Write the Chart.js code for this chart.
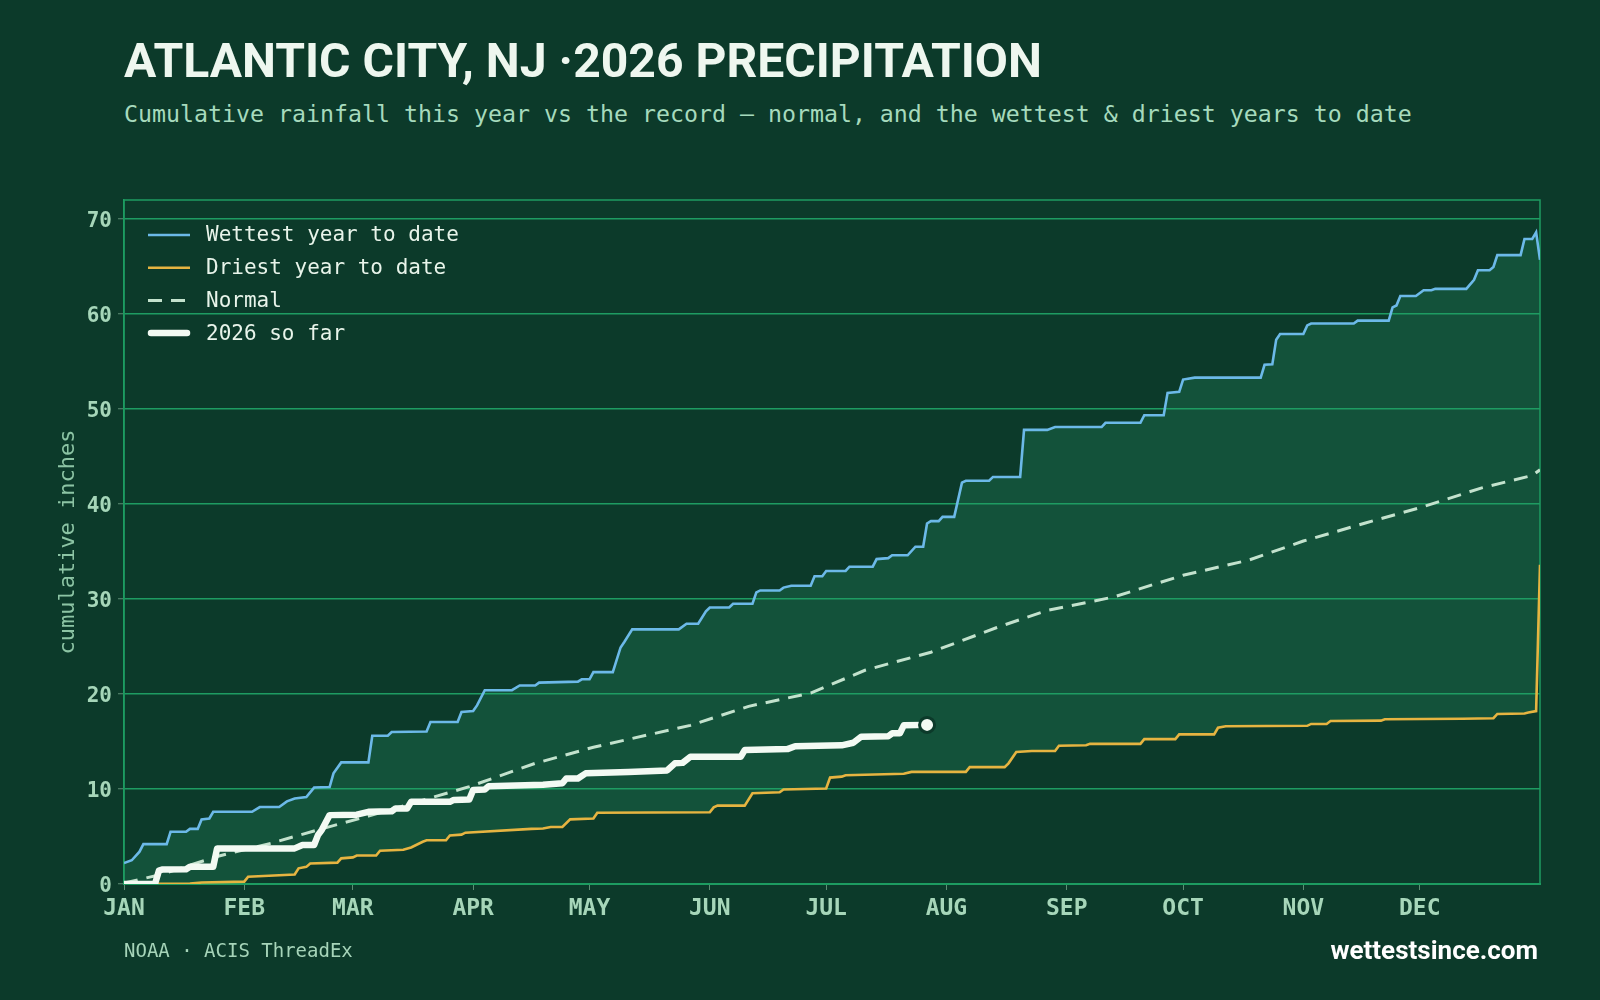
<!DOCTYPE html>
<html>
<head>
<meta charset="utf-8">
<script src="https://cdn.jsdelivr.net/npm/chart.js@4.4.1/dist/chart.umd.min.js"></script>
<style>
  html, body { margin: 0; padding: 0; background: #0c3a2a; }
  body { width: 1600px; height: 1000px; position: relative; overflow: hidden; }
  #chart { position: absolute; left: 0; top: 0; }
  .txt { position: absolute; white-space: nowrap; line-height: 1; }
  #title { left: 124px; top: 32px; font: 700 48.1px Roboto, sans-serif; color: #eef7ef; }
  #subtitle { left: 124px; top: 100px; font: 400 23.25px "DejaVu Sans Mono", monospace; color: #a6dabd; }
  #source { left: 124px; top: 939px; font: 400 19px "DejaVu Sans Mono", monospace; color: #a6d4b9; }
  #site { right: 62px; top: 935px; font: 700 26px Roboto, sans-serif; color: #ffffff; }
</style>
</head>
<body>
<div class="txt" id="title">ATLANTIC CITY, NJ ·2026 PRECIPITATION</div>
<div class="txt" id="subtitle">Cumulative rainfall this year vs the record — normal, and the wettest &amp; driest years to date</div>
<canvas id="chart" width="1600" height="1000"></canvas>
<div class="txt" id="source">NOAA · ACIS ThreadEx</div>
<div class="txt" id="site">wettestsince.com</div>

<script>
// x is day of year (0 = Jan 1), y is cumulative inches
const monthStarts = [0, 31, 59, 90, 120, 151, 181, 212, 243, 273, 304, 334];
const monthLabels = ['JAN', 'FEB', 'MAR', 'APR', 'MAY', 'JUN', 'JUL', 'AUG', 'SEP', 'OCT', 'NOV', 'DEC'];
const yTicks = [0, 10, 20, 30, 40, 50, 60, 70];

const wetDays = [0, 2, 4, 5, 11, 12, 16, 17, 19, 20, 22, 23, 33, 35, 40, 42, 44, 47, 49, 53, 54, 56, 63, 64, 68, 69, 78, 79, 86, 87, 90, 91, 93, 100, 102, 106, 107, 117, 118, 120, 121, 126, 128, 129, 131, 143, 145, 148, 150, 151, 156, 157, 162, 163, 164, 169, 170, 172, 177, 178, 180, 181, 186, 187, 193, 194, 197, 198, 202, 204, 206, 207, 208, 210, 211, 214, 216, 217, 223, 224, 231, 232, 238, 240, 252, 253, 262, 263, 268, 269, 272, 273, 276, 293, 294, 296, 297, 298, 304, 305, 306, 317, 318, 326, 327, 328, 329, 333, 335, 337, 338, 346, 348, 349, 352, 353, 354, 360, 361, 363, 364, 365];
const wetInches = [2.2, 2.5, 3.4, 4.2, 4.2, 5.5, 5.5, 5.8, 5.8, 6.8, 6.9, 7.6, 7.6, 8.1, 8.1, 8.7, 9.0, 9.15, 10.15, 10.2, 11.65, 12.8, 12.8, 15.6, 15.6, 16.0, 16.05, 17.05, 17.05, 18.1, 18.2, 18.8, 20.4, 20.4, 20.9, 20.9, 21.2, 21.3, 21.55, 21.55, 22.3, 22.3, 24.9, 25.5, 26.8, 26.8, 27.4, 27.4, 28.7, 29.1, 29.1, 29.5, 29.5, 30.7, 30.9, 30.9, 31.2, 31.4, 31.4, 32.4, 32.4, 32.95, 32.95, 33.4, 33.4, 34.2, 34.3, 34.6, 34.6, 35.5, 35.5, 37.95, 38.2, 38.2, 38.65, 38.65, 42.25, 42.45, 42.45, 42.85, 42.85, 47.8, 47.8, 48.1, 48.1, 48.55, 48.55, 49.35, 49.35, 51.7, 51.8, 53.1, 53.3, 53.3, 54.65, 54.7, 57.3, 57.9, 57.9, 58.8, 59.0, 59.0, 59.3, 59.3, 60.7, 60.9, 61.9, 61.9, 62.5, 62.5, 62.65, 62.65, 63.6, 64.6, 64.6, 64.95, 66.2, 66.2, 67.9, 67.9, 68.6, 65.7];

const dryDays = [0, 17, 20, 31, 32, 36, 44, 45, 47, 48, 55, 56, 59, 60, 65, 66, 72, 74, 77, 78, 83, 84, 87, 88, 105, 108, 110, 113, 115, 121, 122, 151, 152, 153, 160, 162, 169, 170, 181, 182, 185, 186, 201, 203, 217, 218, 227, 228, 230, 234, 240, 241, 248, 249, 262, 263, 271, 272, 281, 282, 284, 305, 306, 310, 311, 324, 325, 345, 353, 354, 361, 362, 364, 365];
const dryInches = [0, 0.05, 0.15, 0.25, 0.77, 0.85, 1.0, 1.65, 1.8, 2.15, 2.25, 2.7, 2.8, 3.0, 3.0, 3.5, 3.6, 3.85, 4.45, 4.6, 4.6, 5.1, 5.2, 5.4, 5.8, 5.85, 6.0, 6.0, 6.8, 6.9, 7.5, 7.55, 8.07, 8.25, 8.25, 9.55, 9.65, 9.95, 10.05, 11.2, 11.3, 11.45, 11.6, 11.8, 11.8, 12.3, 12.3, 12.7, 13.9, 14.0, 14.0, 14.55, 14.6, 14.75, 14.75, 15.25, 15.25, 15.75, 15.75, 16.45, 16.6, 16.65, 16.85, 16.85, 17.15, 17.2, 17.35, 17.4, 17.45, 17.9, 17.95, 18.05, 18.2, 33.6];

const normalDays = [0, 10, 24, 38, 50, 63, 76, 89, 106, 121, 146, 161, 177, 191, 208, 225, 238, 255, 273, 290, 304, 320, 334, 350, 363, 365];
const normalInches = [0.1, 1.05, 2.9, 4.3, 5.7, 7.15, 8.7, 10.25, 12.7, 14.4, 16.7, 18.7, 20.1, 22.5, 24.4, 27.0, 28.8, 30.2, 32.5, 34.1, 36.1, 38.0, 39.6, 41.7, 43.0, 43.6];

const yearDays = [0, 8, 9, 10, 16, 17, 23, 24, 44, 46, 49, 50, 51, 53, 60, 63, 69, 70, 73, 74, 84, 85, 89, 90, 93, 94, 108, 113, 114, 117, 119, 130, 140, 142, 144, 146, 159, 160, 171, 173, 185, 188, 190, 197, 198, 200, 201, 207];
const yearInches = [0, 0, 1.4, 1.53, 1.55, 1.82, 1.82, 3.75, 3.75, 4.1, 4.1, 5.15, 5.7, 7.25, 7.3, 7.6, 7.65, 7.95, 7.95, 8.65, 8.65, 8.85, 8.9, 9.9, 9.95, 10.3, 10.45, 10.6, 11.1, 11.1, 11.65, 11.8, 11.95, 12.7, 12.75, 13.4, 13.4, 14.1, 14.2, 14.5, 14.6, 14.87, 15.5, 15.55, 15.86, 15.86, 16.7, 16.75];

const legendOrder = [2, 3, 1, 0];

function pts(days, vals) {
    return days.map((d, i) => ({ x: d, y: vals[i] }));
}

const gridGreen = '#1e9c62';
const tickGrey = '#5d8d74';
const labelGreen = '#a6d6b9';

const frame = {
    id: 'frame',
    beforeDatasetsDraw(chart) {
        const a = chart.chartArea;
        const ctx = chart.ctx;
        ctx.save();
        ctx.strokeStyle = gridGreen;
        ctx.lineWidth = 1.5;
        ctx.strokeRect(a.left, a.top, a.right - a.left, a.bottom - a.top);
        ctx.restore();
    }
};

const insideLegend = {
    id: 'insideLegend',
    afterDatasetsDraw(chart) {
        const ctx = chart.ctx;
        const a = chart.chartArea;
        ctx.save();
        ctx.font = '21px "DejaVu Sans Mono"';
        ctx.textBaseline = 'middle';
        legendOrder.forEach((idx, i) => {
            const ds = chart.data.datasets[idx];
            const y = a.top + 35 + i * 32.7;
            ctx.strokeStyle = ds.borderColor;
            ctx.lineWidth = ds.borderWidth;
            ctx.lineCap = ds.borderCapStyle || 'butt';
            ctx.setLineDash(ds.borderDash || []);
            ctx.beginPath();
            ctx.moveTo(a.left + (ds.borderCapStyle === 'round' ? 27 : 24), y);
            ctx.lineTo(a.left + (ds.borderCapStyle === 'round' ? 63 : 66), y);
            ctx.stroke();
            ctx.setLineDash([]);
            ctx.fillStyle = '#e8f4ea';
            ctx.fillText(ds.label, a.left + 82, y + 1);
        });
        ctx.restore();
    }
};

window.onload = () => {
    const ctx = document.getElementById('chart').getContext('2d');
    const lastYear = yearDays.length - 1;

    new Chart(ctx, {
        type: 'line',
        data: {
            datasets: [{
                label: '2026 so far',
                data: pts(yearDays, yearInches),
                borderColor: '#f3faf3',
                borderWidth: 6.5,
                borderJoinStyle: 'round',
                borderCapStyle: 'round',
                pointRadius: c => c.dataIndex === lastYear ? 7.5 : 0,
                pointBackgroundColor: '#f3faf3',
                pointBorderColor: '#0c3a2a',
                pointBorderWidth: 3,
                fill: false,
                tension: 0
            }, {
                label: 'Normal',
                data: pts(normalDays, normalInches),
                borderColor: '#c3e2cd',
                borderWidth: 3,
                borderDash: [14, 9],
                pointRadius: 0,
                fill: false,
                tension: 0
            }, {
                label: 'Wettest year to date',
                data: pts(wetDays, wetInches),
                borderColor: '#6cb9e8',
                borderWidth: 2.6,
                pointRadius: 0,
                fill: { target: '+1', above: '#13523a', below: '#13523a' },
                tension: 0
            }, {
                label: 'Driest year to date',
                data: pts(dryDays, dryInches),
                borderColor: '#e6b441',
                borderWidth: 2.6,
                pointRadius: 0,
                fill: false,
                tension: 0
            }]
        },
        options: {
            responsive: false,
            animation: false,
            devicePixelRatio: 1,
            layout: { padding: { left: 40, top: 200, right: 60, bottom: 76 } },
            plugins: {
                legend: { display: false },
                tooltip: { enabled: false },
                filler: { drawTime: 'beforeDraw' }
            },
            scales: {
                x: {
                    type: 'linear',
                    min: 0,
                    max: 365,
                    afterBuildTicks: s => { s.ticks = monthStarts.map(v => ({ value: v })); },
                    afterFit: s => { s.height = 40; },
                    ticks: {
                        autoSkip: false,
                        maxRotation: 0,
                        padding: 5,
                        color: labelGreen,
                        font: { family: '"DejaVu Sans Mono"', size: 23, weight: 'bold' },
                        callback: v => monthLabels[monthStarts.indexOf(v)]
                    },
                    grid: { drawOnChartArea: false, tickLength: 6, tickColor: tickGrey, tickWidth: 1 },
                    border: { color: gridGreen, width: 2 }
                },
                y: {
                    min: 0,
                    max: 72,
                    afterBuildTicks: s => { s.ticks = yTicks.map(v => ({ value: v })); },
                    afterFit: s => { s.width = 84; },
                    ticks: {
                        padding: 6,
                        labelOffset: 3,
                        color: labelGreen,
                        font: { family: '"DejaVu Sans Mono"', size: 21, weight: 'bold' }
                    },
                    grid: { color: gridGreen, lineWidth: 1.5, tickLength: 6, tickColor: tickGrey, tickWidth: 1 },
                    border: { color: gridGreen, width: 1.5 },
                    title: {
                        display: true,
                        text: 'cumulative inches',
                        color: '#8cc4a4',
                        font: { family: '"DejaVu Sans Mono"', size: 22 },
                        padding: { top: 15, bottom: 0 }
                    }
                }
            }
        },
        plugins: [frame, insideLegend]
    });
};
</script>
</body>
</html>
